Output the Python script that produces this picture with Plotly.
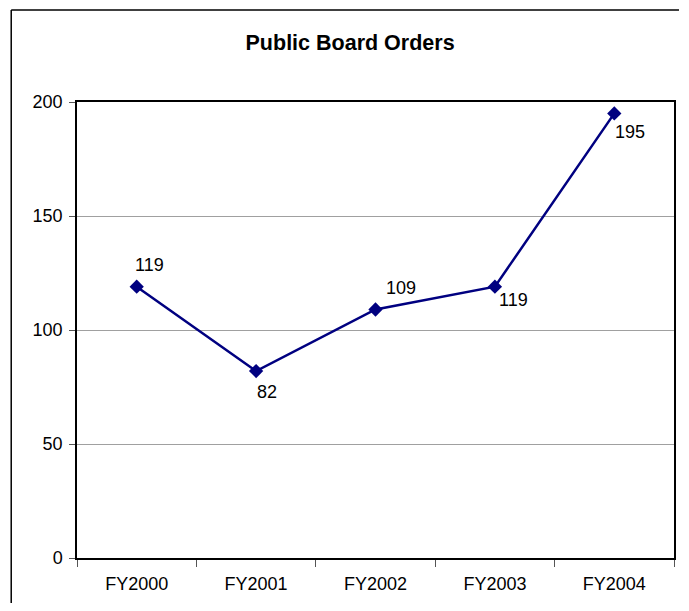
import plotly.graph_objects as go

categories = ["FY2000", "FY2001", "FY2002", "FY2003", "FY2004"]
orders = [119, 82, 109, 119, 195]
y_ticks = [0, 50, 100, 150, 200]
title_text = "Public Board Orders"

NAVY = "#000080"
FONT = "Liberation Sans, Arial, sans-serif"

# page body has an 8px margin on every side; keep the figure inside the window
OFF = 8
W, H = 689 - 2 * OFF, 611 - 2 * OFF
L, T = 77 - OFF, 102 - OFF
R = W - (676 - OFF)
B = H - (558 - OFF)
pw, ph = W - L - R, H - T - B


def px(x):
    return (x - OFF - L) / pw


def py(y):
    return (H - B - (y - OFF)) / ph


fig = go.Figure()
fig.add_trace(go.Scatter(
    x=categories, y=orders, mode="lines+markers",
    line=dict(color=NAVY, width=2.5),
    marker=dict(symbol="diamond", size=11, color=NAVY),
    hoverinfo="x+y", showlegend=False,
))

# label offsets (px) relative to each point
label_shifts = [(13, 22), (11, -21), (25, 21), (19, -13), (16, -19)]
for c, v, (dx, dy) in zip(categories, orders, label_shifts):
    fig.add_annotation(x=c, y=v, text=str(v), showarrow=False,
                       xshift=dx, yshift=dy,
                       font=dict(family=FONT, size=18, color="black"))

# outer chart frame: left and top edges (the others run off the picture)
frame = dict(color="black", width=1.5)
fig.add_shape(type="line", xref="paper", yref="paper",
              x0=px(11), x1=px(11), y0=py(10), y1=py(OFF + H), line=frame, layer="below")
fig.add_shape(type="line", xref="paper", yref="paper",
              x0=px(11), x1=px(OFF + W), y0=py(10), y1=py(10), line=frame, layer="below")

fig.update_layout(
    width=W, height=H,
    margin=dict(l=L, r=R, t=T, b=B),
    paper_bgcolor="white", plot_bgcolor="white",
    title=dict(text="<b>" + title_text + "</b>", x=px(351), xref="paper",
               xanchor="center", y=1 - (42 - OFF) / H, yanchor="middle",
               font=dict(family=FONT, size=21.5, color="black")),
    font=dict(family=FONT, size=18, color="black"),
)
fig.update_xaxes(
    type="category", range=[-0.5, len(categories) - 0.5],
    showline=True, linecolor="black", linewidth=1.5, mirror=True,
    ticks="outside", tickson="boundaries", ticklen=7, tickcolor="#555555",
    ticklabelstandoff=9,
    showgrid=False, tickfont=dict(size=18, family=FONT),
)
fig.update_yaxes(
    range=[0, 200], tickvals=y_ticks,
    showline=True, linecolor="black", linewidth=1.5, mirror=True,
    ticks="outside", ticklen=6, tickcolor="#555555",
    ticklabelstandoff=3,
    showgrid=True, gridcolor="#a0a0a0", gridwidth=1,
    zeroline=False, tickfont=dict(size=18, family=FONT),
)

fig.write_html("out.html")
